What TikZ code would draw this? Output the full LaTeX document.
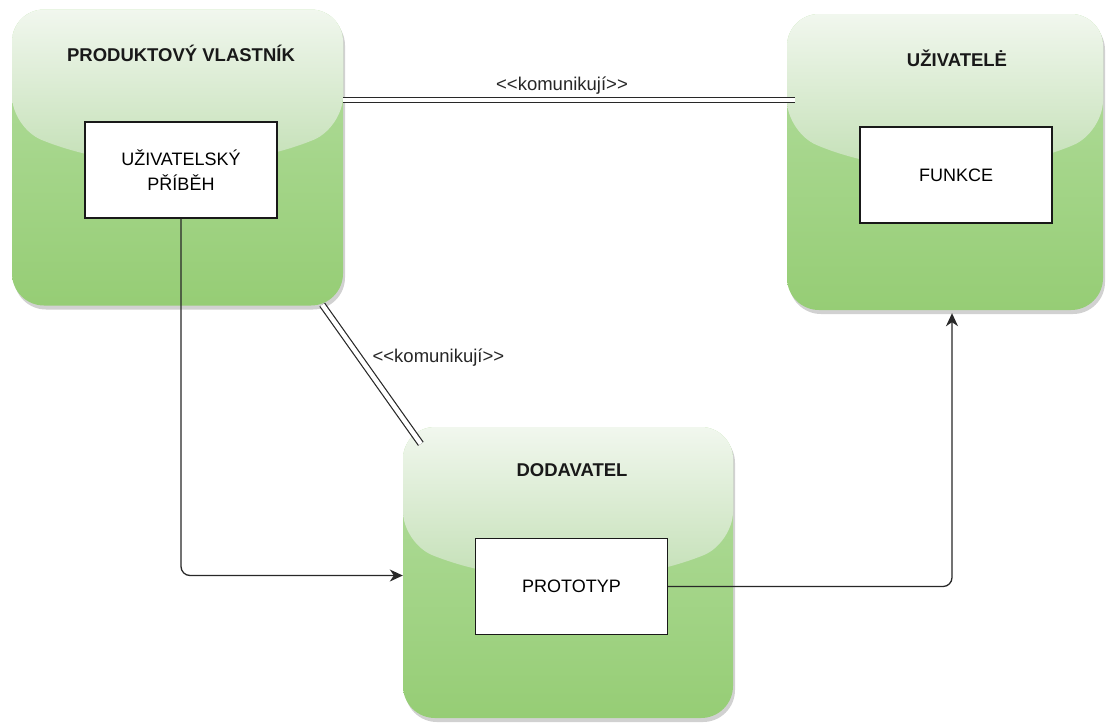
\documentclass[tikz,border=0pt]{standalone}
\usepackage{fontspec}
\setmainfont{Liberation Sans}
\usetikzlibrary{arrows.meta}
\usetikzlibrary{calc}
\usetikzlibrary{shadows}

\definecolor{glossTop}{RGB}{241,247,238}
\definecolor{glossLow}{RGB}{194,223,180}
\definecolor{greenHi}{RGB}{180,222,160}
\definecolor{greenLo}{RGB}{150,205,117}
\definecolor{lineGray}{RGB}{40,40,40}

\tikzset{
  role/.style={rounded corners=32pt, top color=greenHi, bottom color=greenLo,
    drop shadow={shadow xshift=2pt, shadow yshift=-4pt, fill=black, opacity=.18},
    path picture={
      \coordinate (gA) at ($(path picture bounding box.north west)!.40!(path picture bounding box.south west)$);
      \coordinate (gB) at ($(path picture bounding box.north east)!.40!(path picture bounding box.south east)$);
      \coordinate (gM) at ($(path picture bounding box.north west)!.55!(path picture bounding box.south west)$);
      \coordinate (gL) at ($(path picture bounding box.north west)!.33!(path picture bounding box.north east)$);
      \coordinate (gR) at ($(path picture bounding box.north west)!.67!(path picture bounding box.north east)$);
      \shade[top color=glossTop, bottom color=glossLow]
        (path picture bounding box.north west) -- (gA)
        .. controls (gL |- gM) and (gR |- gM) .. (gB)
        -- (path picture bounding box.north east) -- cycle;
    }},
  roleTitle/.style={font=\bfseries\fontsize{18.5}{20}\selectfont, text=black!90},
  artefact/.style={draw=black!90, line width=1.2pt, fill=white, align=center,
    minimum width=192pt, minimum height=96pt, font=\fontsize{18}{25}\selectfont},
  comm/.style={draw=lineGray, line width=1.2pt, double=white, double distance=4.5pt},
  commText/.style={font=\fontsize{18.5}{20}\selectfont, text=black!85},
  flow/.style={draw=lineGray, line width=1.3pt, rounded corners=9pt,
    -{Stealth[length=13pt, width=12pt, inset=4pt]}}
}

\begin{document}
\begin{tikzpicture}[x=1pt, y=-1pt]
\useasboundingbox (0,0) rectangle (1110,724);

% roles
\node[role, minimum width=331pt, minimum height=296pt] (owner) at (177.5,157.5) {};
\node[role, minimum width=316pt, minimum height=296pt] (users) at (945,162) {};
\node[role, minimum width=330pt, minimum height=291pt] (supplier) at (568,572.5) {};

\node[roleTitle] (ownerTitle) at (181,53) {PRODUKTOVÝ VLASTNÍK};
\node[roleTitle] (usersTitle) at (957,58) {UŽIVATELĖ};
\node[roleTitle] (supplierTitle) at (572,470) {DODAVATEL};

% artefacts
\node[artefact] (story) at (181,170) {UŽIVATELSKÝ\\PŘÍBĚH};
\node[artefact] (feature) at (956,175) {FUNKCE};
\node[artefact] (proto) at (571.5,586.5) {PROTOTYP};

% communication
\coordinate (talk) at (0,100);
\draw[comm] (owner.east |- talk) -- ($(users.west |- talk)+(8,0)$)
  node[commText, midway, above=2pt, xshift=-7pt] (talkTop) {{<}{<}komunikují{>}{>}};
\draw[comm] ($(owner.south east)+(-21,-1)$) -- ($(supplier.north west)+(18,17)$)
  node[commText, pos=.38, right=9pt] (talkSide) {{<}{<}komunikují{>}{>}};

% flow of work
\draw[flow] (story.south) |- ([yshift=-3pt]supplier.west);
\draw[flow] (proto.east) -| ([xshift=7pt,yshift=-3pt]users.south);
\end{tikzpicture}
\end{document}
